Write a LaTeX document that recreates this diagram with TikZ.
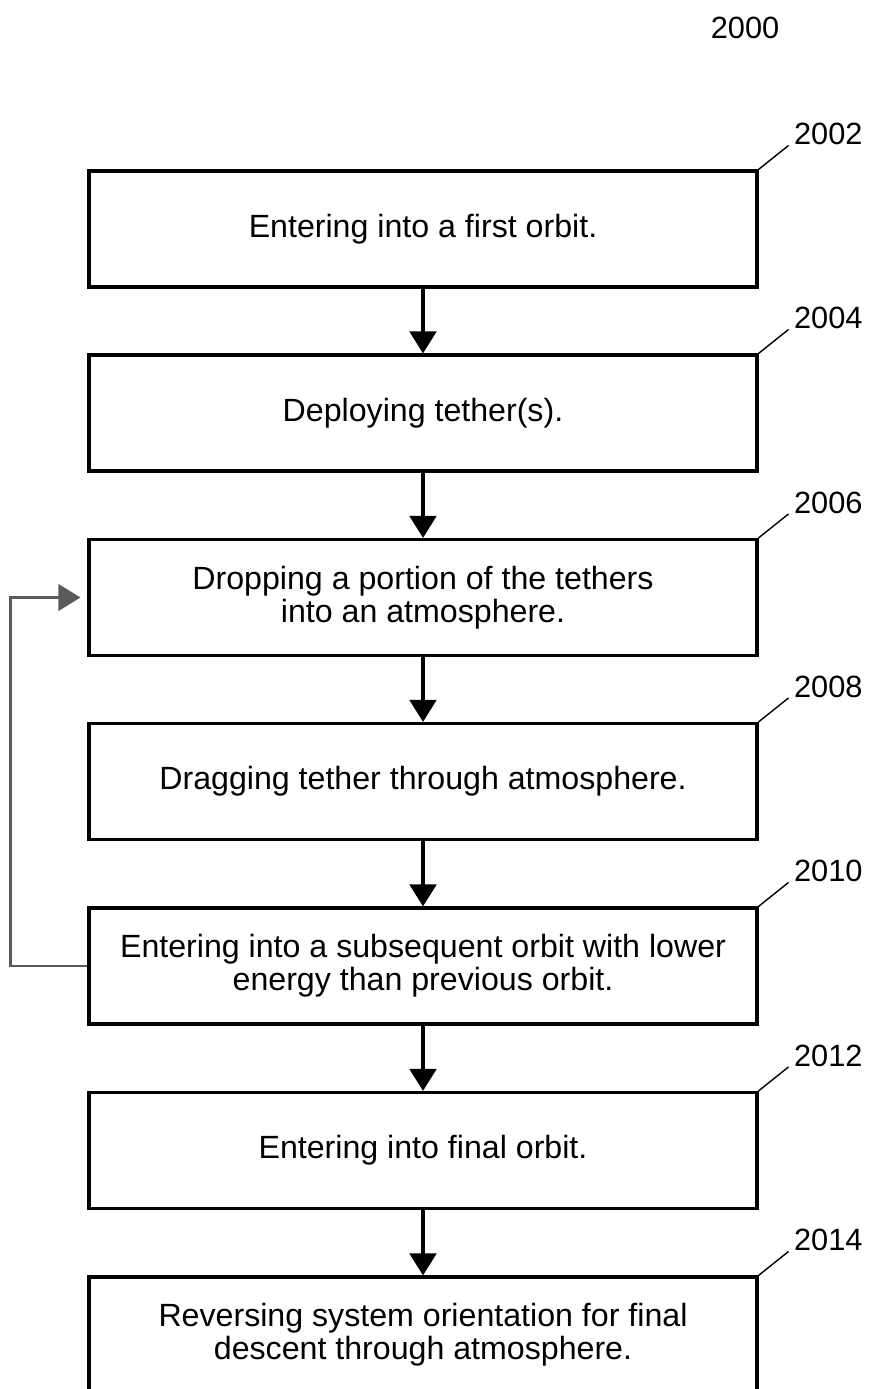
\documentclass[tikz,border=0pt]{standalone}
\usepackage{fontspec}
\setmainfont{Liberation Sans}
\usepackage{tikz}
\usetikzlibrary{arrows.meta,positioning}
\definecolor{loopgray}{HTML}{5A5A5A}

\begin{document}
\begin{tikzpicture}[x=0.02cm, y=-0.02cm,
    font=\fontsize{18.3}{18.8}\selectfont,
    >={Triangle[length=12.5pt,width=15pt]},
    stepbox/.style={rectangle,draw=black,line width=1.8pt,fill=white,
                    minimum width=13.36cm,minimum height=2.32cm,align=center,inner sep=2pt},
    ref/.style={anchor=south west,inner xsep=3pt,inner ysep=0pt,
                font=\fontsize{17.5}{19}\selectfont},
    flow/.style={->,line width=2.2pt},
    lead/.style={line width=0.8pt},
    back/.style={->,loopgray,line width=1.6pt,shorten >=4pt}]

  \useasboundingbox (0,0) rectangle (869,1389);

  \node[inner sep=0pt,font=\fontsize{17.5}{19}\selectfont] (fig) at (745,28) {2000};

  \node[stepbox] (s1) at (423,229)  {Entering into a first orbit.};
  \node[stepbox] (s2) at (423,413)  {Deploying tether(s).};
  \node[stepbox] (s3) at (423,597.5) {Dropping a portion of the tethers\\into an atmosphere.};
  \node[stepbox] (s4) at (423,781.5) {Dragging tether through atmosphere.};
  \node[stepbox] (s5) at (423,966)  {Entering into a subsequent orbit with lower\\energy than previous orbit.};
  \node[stepbox] (s6) at (423,1150.5) {Entering into final orbit.};
  \node[stepbox] (s7) at (423,1335) {Reversing system orientation for final\\descent through atmosphere.};

  % reference numerals
  \node[ref] (r1) at ([shift={(30,-24)}]s1.north east) {2002};
  \node[ref] (r2) at ([shift={(30,-24)}]s2.north east) {2004};
  \node[ref] (r3) at ([shift={(30,-24)}]s3.north east) {2006};
  \node[ref] (r4) at ([shift={(30,-24)}]s4.north east) {2008};
  \node[ref] (r5) at ([shift={(30,-24)}]s5.north east) {2010};
  \node[ref] (r6) at ([shift={(30,-24)}]s6.north east) {2012};
  \node[ref] (r7) at ([shift={(30,-24)}]s7.north east) {2014};

  \draw[lead] (s1.north east) -- (r1.south west);
  \draw[lead] (s2.north east) -- (r2.south west);
  \draw[lead] (s3.north east) -- (r3.south west);
  \draw[lead] (s4.north east) -- (r4.south west);
  \draw[lead] (s5.north east) -- (r5.south west);
  \draw[lead] (s6.north east) -- (r6.south west);
  \draw[lead] (s7.north east) -- (r7.south west);

  \draw[flow] (s1) -- (s2);
  \draw[flow] (s2) -- (s3);
  \draw[flow] (s3) -- (s4);
  \draw[flow] (s4) -- (s5);
  \draw[flow] (s5) -- (s6);
  \draw[flow] (s6) -- (s7);

  % repeat loop
  \draw[back] (s5.west) -- ++(-77,0) |- (s3.west);
\end{tikzpicture}
\end{document}
